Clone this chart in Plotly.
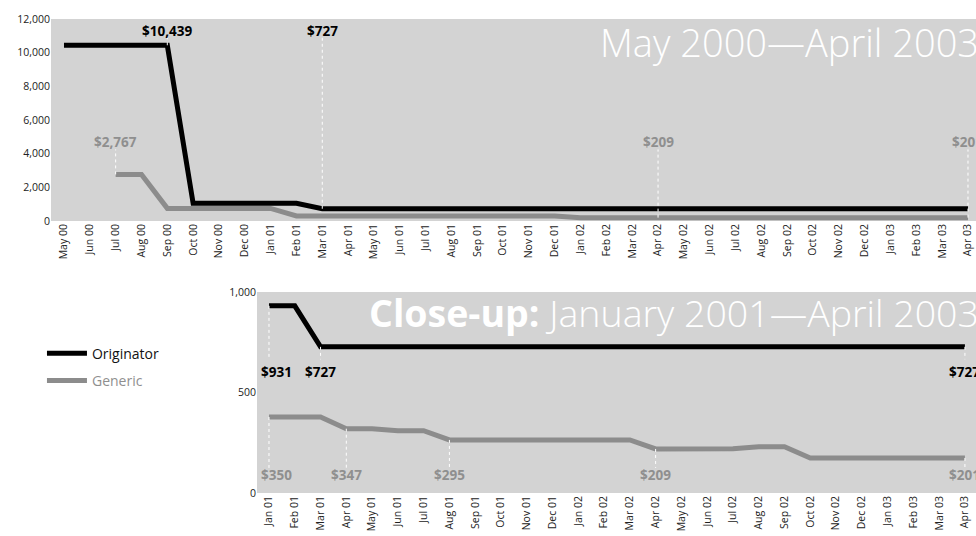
import plotly.graph_objects as go

# ---------------- data ----------------
months_full = ["May 00", "Jun 00", "Jul 00", "Aug 00", "Sep 00", "Oct 00", "Nov 00", "Dec 00",
               "Jan 01", "Feb 01", "Mar 01", "Apr 01", "May 01", "Jun 01", "Jul 01", "Aug 01",
               "Sep 01", "Oct 01", "Nov 01", "Dec 01", "Jan 02", "Feb 02", "Mar 02", "Apr 02",
               "May 02", "Jun 02", "Jul 02", "Aug 02", "Sep 02", "Oct 02", "Nov 02", "Dec 02",
               "Jan 03", "Feb 03", "Mar 03", "Apr 03"]
originator_full = [10439, 10439, 10439, 10439, 10439, 1050, 1050, 1050, 1050, 1050,
                   727, 727, 727, 727, 727, 727, 727, 727, 727, 727, 727, 727, 727, 727,
                   727, 727, 727, 727, 727, 727, 727, 727, 727, 727, 727, 727]
generic_full = [None, None, 2767, 2767, 750, 750, 750, 750, 750, 300,
                300, 300, 300, 300, 300, 300, 300, 300, 300, 300, 200, 200, 200, 200,
                200, 200, 200, 200, 200, 200, 200, 200, 200, 200, 200, 200]

months_close = months_full[8:]
originator_close = [931, 931, 727, 727, 727, 727, 727, 727, 727, 727, 727, 727, 727, 727,
                    727, 727, 727, 727, 727, 727, 727, 727, 727, 727, 727, 727, 727, 727]
generic_close = [378, 378, 378, 320, 320, 310, 310, 264, 264, 264, 264, 264, 264, 264,
                 264, 219, 219, 219, 220, 230, 230, 174, 174, 174, 174, 174, 174, 174]

# callouts: month, value, label, series
top_note_months = ["Sep 00", "Mar 01", "Jul 00", "Apr 02", "Apr 03"]
top_note_values = [10439, 727, 2767, 200, 200]
top_note_texts = ["$10,439", "$727", "$2,767", "$209", "$201"]
top_note_series = ["orig", "orig", "gen", "gen", "gen"]

close_note_months = ["Jan 01", "Mar 01", "Apr 03", "Jan 01", "Apr 01", "Aug 01", "Apr 02", "Apr 03"]
close_note_values = [931, 727, 727, 378, 320, 264, 219, 174]
close_note_texts = ["$931", "$727", "$727", "$350", "$347", "$295", "$209", "$201"]
close_note_series = ["orig", "orig", "orig", "gen", "gen", "gen", "gen", "gen"]

# ---------------- style ----------------
BLACK = "#000000"
GRAY = "#8c8c8c"
TEXTGRAY = "#8f8f8f"
BG = "#d3d3d3"
FONT = "Open Sans"

fig = go.Figure()

# main lines (top)
fig.add_trace(go.Scatter(x=months_full, y=originator_full, mode="lines", name="Originator",
                         line=dict(color=BLACK, width=5), legendgroup="o",
                         xaxis="x", yaxis="y"))
fig.add_trace(go.Scatter(x=months_full, y=generic_full, mode="lines",
                         name="<span style='color:#8f8f8f'>Generic</span>",
                         line=dict(color=GRAY, width=5), legendgroup="g",
                         xaxis="x", yaxis="y"))
# close-up lines
fig.add_trace(go.Scatter(x=months_close, y=originator_close, mode="lines", showlegend=False,
                         line=dict(color=BLACK, width=5), xaxis="x2", yaxis="y2"))
fig.add_trace(go.Scatter(x=months_close, y=generic_close, mode="lines", showlegend=False,
                         line=dict(color=GRAY, width=5), xaxis="x2", yaxis="y2"))

annotations = []

# top callouts
for m, v, t, s in zip(top_note_months, top_note_values, top_note_texts, top_note_series):
    if s == "orig":
        lead_top, lab_y, col = 10900, 11300, BLACK
    else:
        lead_top, lab_y, col = 4250, 4700, TEXTGRAY
    fig.add_trace(go.Scatter(x=[m, m], y=[v, lead_top], mode="lines", showlegend=False,
                             line=dict(color="white", width=1, dash="dot"),
                             xaxis="x", yaxis="y", hoverinfo="skip"))
    annotations.append(dict(x=m, y=lab_y, xref="x", yref="y", text="<b>" + t + "</b>",
                            showarrow=False, font=dict(family=FONT, size=13.5, color=col),
                            xanchor="center", yanchor="middle"))

# close-up callouts
for m, v, t, s in zip(close_note_months, close_note_values, close_note_texts, close_note_series):
    if s == "orig":
        lead_bot, lab_y, col = 665, 600, BLACK
    else:
        lead_bot, lab_y, col = 125, 90, TEXTGRAY
    fig.add_trace(go.Scatter(x=[m, m], y=[v, lead_bot], mode="lines", showlegend=False,
                             line=dict(color="white", width=1, dash="dot"),
                             xaxis="x2", yaxis="y2", hoverinfo="skip"))
    shift = 8 if m == "Jan 01" else 0
    annotations.append(dict(x=m, y=lab_y, xref="x2", yref="y2", text="<b>" + t + "</b>",
                            showarrow=False, font=dict(family=FONT, size=13.5, color=col),
                            xanchor="center", yanchor="middle", xshift=shift))

# titles inside plots
annotations.append(dict(x=1, y=1 - 14 / 536, xref="paper", yref="paper", xanchor="right", yanchor="top",
                        text="May 2000\u2014April 2003", showarrow=False, xshift=5,
                        font=dict(family=FONT, size=38, color="white", weight=300)))
annotations.append(dict(x=1, y=1 - 285 / 536, xref="paper", yref="paper", xanchor="right", yanchor="top",
                        text="<b>Close-up:</b> January 2001\u2014April 2003", showarrow=False, xshift=5,
                        font=dict(family=FONT, size=37.5, color="white", weight=300)))

W, H = 976, 536
xtickfont = dict(family=FONT, size=10.5, color="#222222")
ytickfont = dict(family=FONT, size=10.5, color="#222222")

fig.update_layout(
    width=W, height=H,
    margin=dict(l=0, r=0, t=0, b=0, autoexpand=False),
    paper_bgcolor="white",
    plot_bgcolor=BG,
    font=dict(family=FONT),
    annotations=annotations,
    showlegend=True,
    legend=dict(x=0.043, y=0.37, xanchor="left", yanchor="top", itemwidth=40,
                font=dict(family=FONT, size=14, color="#111111"),
                tracegroupgap=6, bgcolor="rgba(0,0,0,0)"),
    xaxis=dict(domain=[51 / W, 1], type="category", categoryorder="array", categoryarray=months_full,
               range=[-0.503, 35.31], tickangle=-90, tickfont=xtickfont, showgrid=False,
               zeroline=False, showline=False, ticks="", automargin=False),
    yaxis=dict(domain=[1 - 221 / H, 1 - 19 / H], range=[0, 12000], tickvals=[0, 2000, 4000, 6000, 8000, 10000, 12000],
               tickformat=",", tickfont=ytickfont, showgrid=False, zeroline=False, showline=False, ticks="",
               automargin=False),
    xaxis2=dict(domain=[257 / W, 1], type="category", categoryorder="array", categoryarray=months_close,
                range=[-0.465, 27.43], tickangle=-90, tickfont=xtickfont, showgrid=False,
                zeroline=False, showline=False, ticks="", anchor="y2", automargin=False),
    yaxis2=dict(domain=[1 - 493 / H, 1 - 292 / H], range=[0, 1000], tickvals=[0, 500, 1000],
                tickformat=",", tickfont=ytickfont, showgrid=False, zeroline=False, showline=False,
                ticks="", anchor="x2", automargin=False),
)

fig.write_html("out.html")
